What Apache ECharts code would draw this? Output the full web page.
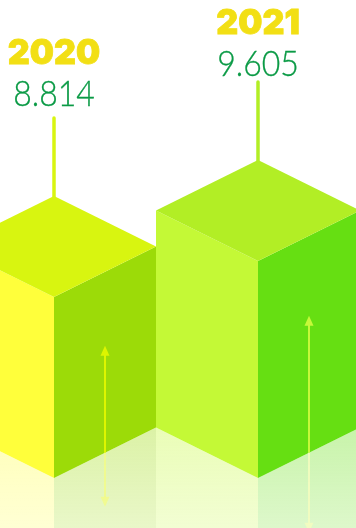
<!DOCTYPE html>
<html>
<head>
<meta charset="utf-8">
<style>html,body{margin:0;padding:0;background:#fff}#chart{width:356px;height:528px}</style>
<script src="https://cdn.jsdelivr.net/npm/echarts@6/dist/echarts.min.js"></script>
</head>
<body>
<div id="chart"></div>
<script>
// Yearly totals, drawn as isometric blocks
const years = ['2020', '2021'];
const totals = [8.814, 9.605];

// Block appearance, one entry per year
const leftFaces = ['#FFFF3B', '#C4F936'];
const rightFaces = ['#9CDB08', '#66DF12'];
const topFaces = ['#D8F510', '#B2EE25'];
const arrowTints = ['#DDF500', '#C6F83A'];
const yearLift = [142, 136];
const valueLift = [101, 95];
const arrowUp = [107, 137];
const arrowDown = [54, 80];

const BASE = 4.84;        // value at which the blocks stand on the floor
const RISE = 101;         // vertical extent of the top rhombus
const STEM = 78;          // marker stem above the apex

function renderBlock(params, api) {
  const i = params.dataIndex;
  const [cx, frontTop] = api.coord([api.value(0), api.value(1)]);
  const baseY = api.coord([api.value(0), BASE])[1];
  const floorEnd = api.coord([api.value(0), 3.74])[1];
  const half = api.size([1, 0])[0] / 2;
  const slope = RISE / 2;
  const apex = frontTop - RISE;
  const left = cx - half, right = cx + half;
  const edgeY = baseY - slope;

  const poly = (points, fill) => ({
    type: 'polygon', shape: { points }, style: { fill }
  });
  const fade = (color) => new echarts.graphic.LinearGradient(0, 0, 0, 1, [
    { offset: 0, color: echarts.color.modifyAlpha(color, 0.36) },
    { offset: 1, color: echarts.color.modifyAlpha(color, 0.22) }
  ]);

  const ax = cx + half / 2;
  const edgeAtArrow = baseY - slope / 2;
  const tipTop = edgeAtArrow - arrowUp[i];
  const tipBottom = edgeAtArrow + arrowDown[i];
  const tint = arrowTints[i];
  const paleTint = echarts.color.modifyAlpha(tint === arrowTints[0] ? '#F2FB8A' : '#F4FDC0', 0.85);

  const line = (y1, y2, stroke, lineWidth, cap) => ({
    type: 'line',
    shape: { x1: ax, y1, x2: ax, y2 },
    style: { stroke, lineWidth, lineCap: cap || 'butt' }
  });
  const valueY = apex - valueLift[i];

  return {
    type: 'group',
    children: [
      // floor reflection
      poly([[left, edgeY], [cx, baseY], [cx, floorEnd], [left, floorEnd]], fade(leftFaces[i])),
      poly([[cx, baseY], [right, edgeY], [right, floorEnd], [cx, floorEnd]], fade(rightFaces[i])),
      // block faces
      poly([[left, frontTop - slope], [cx, frontTop], [cx, baseY], [left, edgeY]], leftFaces[i]),
      poly([[cx, frontTop], [right, frontTop - slope], [right, edgeY], [cx, baseY]], rightFaces[i]),
      poly([[cx, apex], [right, frontTop - slope], [cx, frontTop], [left, frontTop - slope]], topFaces[i]),
      // stem
      {
        type: 'line',
        shape: { x1: cx, y1: apex + 1, x2: cx, y2: apex - STEM },
        style: { stroke: topFaces[i], lineWidth: 3.5, lineCap: 'round' }
      },
      // double arrow on the right face
      line(tipTop + 8, edgeAtArrow, tint, 2),
      poly([[ax, tipTop], [ax + 4.5, tipTop + 10], [ax - 4.5, tipTop + 10]], tint),
      line(edgeAtArrow, tipBottom - 8, paleTint, 2),
      poly([[ax, tipBottom], [ax + 4.5, tipBottom - 10], [ax - 4.5, tipBottom - 10]], paleTint),
      // captions
      {
        type: 'text',
        style: {
          x: cx, y: apex - yearLift[i], text: years[i],
          fill: '#F2DF14', align: 'center', verticalAlign: 'middle',
          font: '900 34px Inter',
          stroke: '#F2DF14', lineWidth: 0.8
        }
      },
      {
        type: 'text',
        scaleY: 1.1,
        originX: cx,
        originY: valueY,
        style: {
          x: cx, y: valueY, text: totals[i].toFixed(3),
          fill: '#0A9A45', align: 'center', verticalAlign: 'middle',
          font: '300 32px Lato',
          stroke: '#0A9A45', lineWidth: 0.3
        }
      }
    ]
  };
}

const chart = echarts.init(document.getElementById('chart'));
chart.setOption({
  animation: false,
  grid: { left: -48, top: 0, width: 408, height: 528, outerBoundsMode: 'none' },
  xAxis: { type: 'category', data: years, show: false },
  yAxis: { type: 'value', min: 3.74, max: 15.34, show: false },
  series: [{
    type: 'custom',
    clip: false,
    renderItem: renderBlock,
    encode: { x: 0, y: 1 },
    data: years.map((y, i) => [y, totals[i]])
  }]
});
</script>
</body>
</html>
